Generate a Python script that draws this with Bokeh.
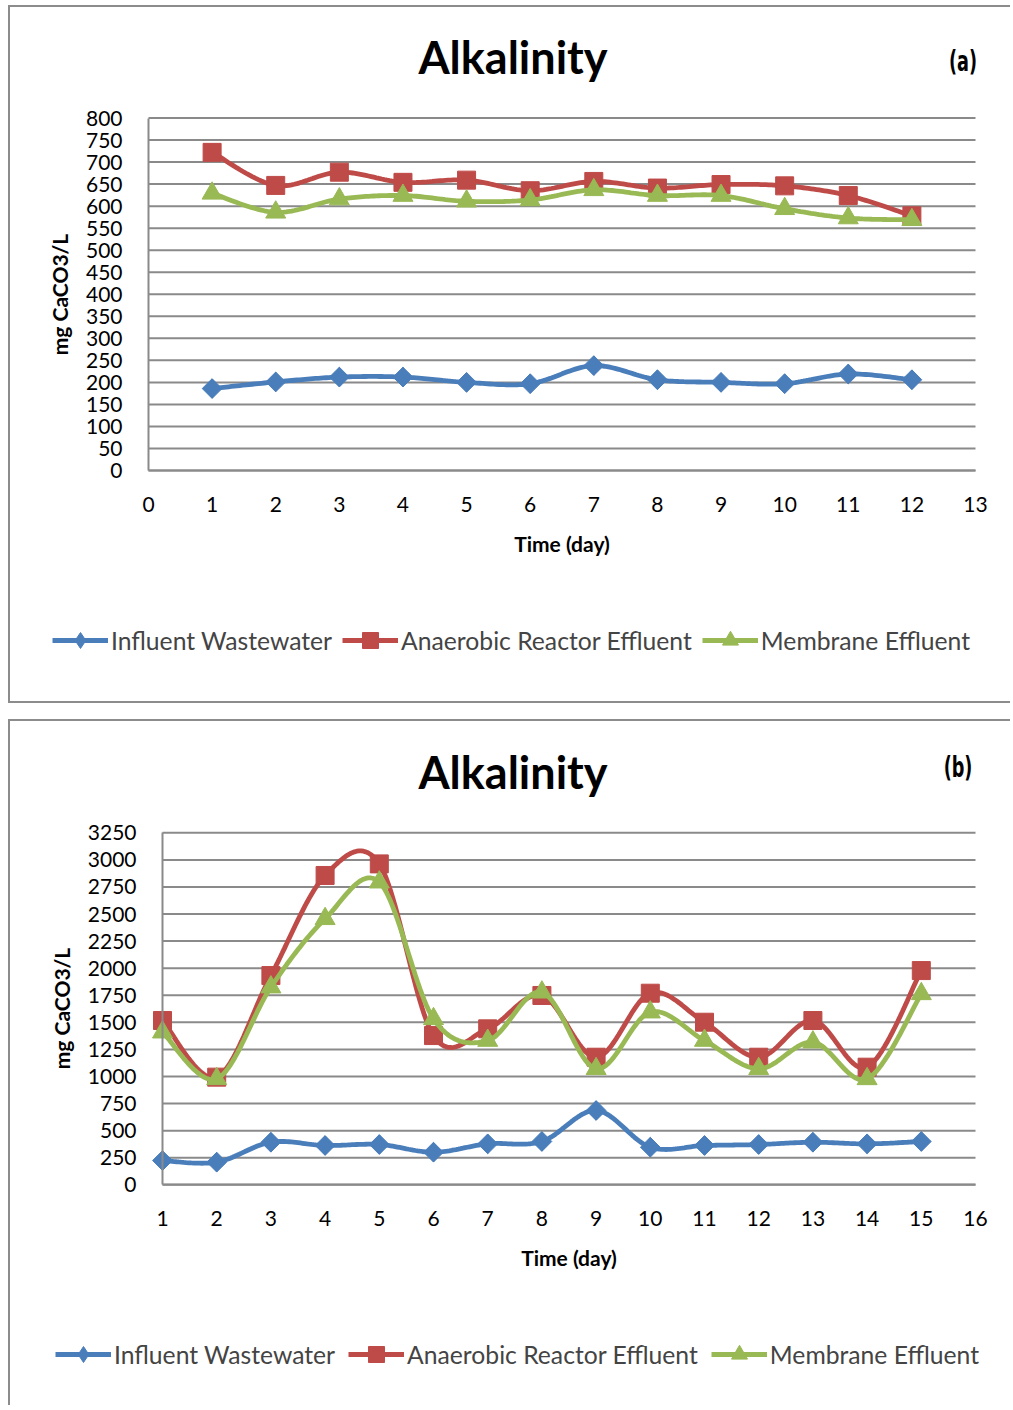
import numpy as np
from bokeh.plotting import figure
from bokeh.layouts import column
from bokeh.models import Range1d, FixedTicker, Legend, LegendItem, Div
from bokeh.embed import file_html
from bokeh.resources import INLINE

# ---------------- data ----------------
days_a = [1, 2, 3, 4, 5, 6, 7, 8, 9, 10, 11, 12]
influent_a = [186, 201, 212, 212, 200, 197, 238, 206, 200, 197, 219, 206]
anaerobic_a = [722, 647, 677, 654, 659, 635, 656, 641, 649, 646, 624, 578]
membrane_a = [629, 586, 616, 624, 611, 614, 637, 624, 624, 594, 573, 569]
yticks_a = list(range(0, 801, 50))
xticks_a = list(range(0, 14))

days_b = [1, 2, 3, 4, 5, 6, 7, 8, 9, 10, 11, 12, 13, 14, 15]
influent_b = [224, 209, 393, 363, 372, 301, 378, 400, 686, 347, 363, 372, 393, 378, 400]
anaerobic_b = [1517, 994, 1932, 2856, 2963, 1378, 1440, 1748, 1178, 1769, 1501, 1178, 1517, 1086, 1978]
membrane_b = [1409, 978, 1825, 2456, 2794, 1532, 1332, 1778, 1071, 1594, 1332, 1071, 1317, 978, 1763]
yticks_b = list(range(0, 3251, 250))
xticks_b = list(range(1, 17))

title_text = "Alkalinity"
series_names = ["Influent Wastewater", "Anaerobic Reactor Effluent", "Membrane Effluent"]
colors = ["#4A7EBB", "#BE4B48", "#98B954"]

FONT = "Lato"
GRID = "#8a8a8a"
BORDER = "2px solid #8c8c8c"
FIG_W = 1000


def smooth(xs, ys, n=24):
    """Excel-like smoothed line (Bezier with 1/6 tension, i.e. Catmull-Rom)."""
    xs = np.asarray(xs, float)
    ys = np.asarray(ys, float)
    ox, oy = [], []
    m = len(xs)
    for i in range(m - 1):
        i0 = max(i - 1, 0)
        i3 = min(i + 2, m - 1)
        p0 = np.array([xs[i0], ys[i0]])
        p1 = np.array([xs[i], ys[i]])
        p2 = np.array([xs[i + 1], ys[i + 1]])
        p3 = np.array([xs[i3], ys[i3]])
        c1 = p1 + (p2 - p0) / 6.0
        c2 = p2 - (p3 - p1) / 6.0
        for t in np.linspace(0, 1, n, endpoint=False):
            b = ((1 - t) ** 3) * p1 + 3 * ((1 - t) ** 2) * t * c1 + 3 * (1 - t) * t * t * c2 + t ** 3 * p2
            ox.append(b[0])
            oy.append(b[1])
    ox.append(xs[-1])
    oy.append(ys[-1])
    return ox, oy


def header(tag, title_xy, tag_xy):
    html = (
        '<div style="position:relative;width:1000px;height:80px;">'
        f'<span style="position:absolute;left:{title_xy[0]}px;top:{title_xy[1]}px;'
        'transform:translate(-50%,-50%);font-family:Lato;font-weight:bold;font-size:45px;'
        f'white-space:nowrap;color:black;line-height:1;">{title_text}</span>'
        f'<span style="position:absolute;left:{tag_xy[0]}px;top:{tag_xy[1]}px;'
        'transform:translate(-50%,-50%) scaleX(0.7);font-family:\'Liberation Sans Narrow\',\'DejaVu Sans Condensed\',sans-serif;'
        'font-weight:bold;font-size:28px;'
        f'white-space:nowrap;color:black;line-height:1;">{tag}</span>'
        '</div>'
    )
    return Div(text=html, width=FIG_W, height=80, margin=0)


def make_panel(days, series, yticks, xticks, height, plot_box, legend_loc, legend_spacing):
    # plot_box: pixel position of the plotting area inside the figure (left, right, top, bottom)
    left, right, top, bottom = plot_box
    x0, x1 = xticks[0], xticks[-1]
    y0, y1 = yticks[0], yticks[-1]
    kx = (right - left) / (x1 - x0)
    ky = (bottom - top) / (y1 - y0)
    xr = Range1d(x0 - left / kx, x1 + (FIG_W - right) / kx)
    yr = Range1d(y0 - (height - bottom) / ky, y1 + top / ky)

    p = figure(width=FIG_W, height=height, output_backend="svg", toolbar_location=None,
               x_range=xr, y_range=yr, min_border=0, margin=0)
    p.outline_line_color = None
    p.background_fill_color = "white"
    p.border_fill_color = "white"
    p.xgrid.visible = False
    p.ygrid.visible = False

    # horizontal gridlines over the plotting area
    p.segment(x0=[x0] * len(yticks), x1=[x1] * len(yticks), y0=yticks, y1=yticks,
              line_color=GRID, line_width=2)

    p.yaxis.ticker = FixedTicker(ticks=yticks)
    p.xaxis.ticker = FixedTicker(ticks=xticks)
    p.xaxis.fixed_location = y0
    p.yaxis.fixed_location = x0
    p.xaxis.bounds = (x0, x1)
    p.yaxis.bounds = (y0, y1)
    for ax in (p.xaxis[0], p.yaxis[0]):
        ax.axis_line_color = GRID
        ax.axis_line_width = 2
        ax.major_tick_line_color = None
        ax.minor_tick_line_color = None
        ax.major_label_text_font = FONT
        ax.major_label_text_font_size = "21px"
        ax.major_label_text_color = "black"
        ax.axis_label_text_font = FONT
        ax.axis_label_text_font_style = "bold"
        ax.axis_label_text_font_size = "21px"
        ax.axis_label_text_color = "black"
    p.yaxis.major_label_standoff = 20
    p.xaxis.major_label_standoff = 20
    p.yaxis.axis_label = "mg CaCO3/L"
    p.xaxis.axis_label = "Time (day)"
    p.yaxis.axis_label_standoff = 11
    p.xaxis.axis_label_standoff = 16

    markers = [("square", np.pi / 4, 14), ("square", 0, 18), ("triangle", 0, 20)]
    items = []
    for k, (name, ys, col, (mk, ang, sz)) in enumerate(zip(series_names, series, colors, markers)):
        sx, sy = smooth(days, ys)
        lr = p.line(sx, sy, line_color=col, line_width=4.8)
        sr = p.scatter(days, ys, marker=mk, angle=ang, size=sz, fill_color=col, line_color=col)
        rs = [lr, sr]
        if k == 0:
            # diamond that sits inside the rotated square; used for the legend swatch
            dr = p.scatter(days, ys, marker="diamond", size=19, fill_color=col, line_color=col)
            rs = [lr, dr]
        items.append(LegendItem(label=name, renderers=rs))

    legend = Legend(items=items, orientation="horizontal", location=legend_loc,
                    background_fill_alpha=0, border_line_alpha=0,
                    label_text_font=FONT, label_text_font_size="24.7px",
                    glyph_width=56, glyph_height=40, label_standoff=3,
                    spacing=legend_spacing, padding=0, margin=0)
    p.add_layout(legend)
    return p


pa = make_panel(days_a, [influent_a, anaerobic_a, membrane_a], yticks_a, xticks_a,
                614, (138, 965, 30.5, 383), (42, 41), 10)
pb = make_panel(days_b, [influent_b, anaerobic_b, membrane_b], yticks_b, xticks_b,
                604, (152, 965, 31.3, 383.3), (45, 31), 13)

col_a = column(header("(a)", (503, 50), (953, 55)), pa, spacing=0, margin=(5, 0, 0, 8),
               styles={"border-left": BORDER, "border-top": BORDER, "border-bottom": BORDER})
col_b = column(header("(b)", (503, 51), (948, 47)), pb, spacing=0, margin=(16, 0, 0, 8),
               styles={"border-left": BORDER, "border-top": BORDER})

open("out.html", "w").write(file_html([col_a, col_b], INLINE))
